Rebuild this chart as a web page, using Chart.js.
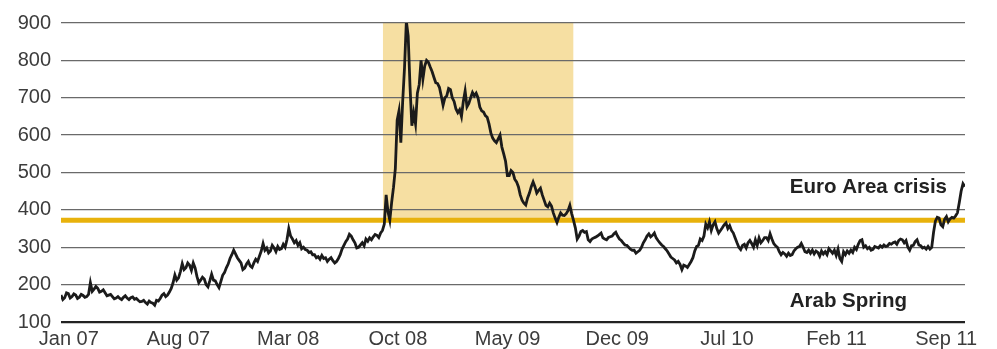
<!DOCTYPE html>
<html>
<head>
<meta charset="utf-8">
<script src="https://cdn.jsdelivr.net/npm/chart.js@4.4.1/dist/chart.umd.min.js"></script>
<style>
  html, body { margin: 0; padding: 0; background: #fff; }
  #wrap { width: 997px; height: 349px; }
</style>
</head>
<body>
<div id="wrap"><canvas id="chart" width="997" height="349"></canvas></div>
<script>
// twice-weekly closes, x in months since Jan 2007
const obsStep = 0.11725;

const prices2007 = [172, 160, 165, 178, 176, 164, 168, 175, 172, 163,
  166, 174, 171, 166, 168, 174, 205, 182, 188, 195,
  190, 180, 182, 186, 178, 170, 172, 174, 168, 162,
  164, 168, 163, 160, 166, 170, 164, 160, 165, 167,
  161, 163, 158, 154, 155, 158, 152, 148, 156, 152,
  150, 145, 158, 156, 163, 172, 176, 168, 172, 180,
  190, 205, 226, 212, 218, 235, 256, 240, 245, 258,
  252, 238, 258, 245, 222, 205, 212, 220, 215, 200,
  194, 210, 228, 212, 210, 200, 192, 208, 225, 232,
  245, 255, 270, 280, 292, 282, 272, 265, 258, 240,
  244, 255, 262, 250];
const prices2008 = [246, 258, 268, 262, 276, 290, 310, 292, 298, 285,
  290, 305, 298, 288, 302, 294, 296, 308, 300, 320,
  350, 330, 322, 312, 318, 305, 312, 296, 300, 294,
  292, 286, 288, 280, 280, 272, 275, 268, 278, 270,
  272, 262, 268, 272, 264, 258, 262, 270, 280, 295,
  305, 315, 322, 335, 330, 320, 312, 298, 300, 306,
  312, 304, 322, 316, 325, 320, 328, 334, 332, 326,
  338, 345, 362, 440, 395, 372, 420, 460, 510, 640,
  665, 580, 690, 780, 905, 865, 730, 625, 660, 630,
  712, 735, 800, 750, 785, 800, 795, 782, 770, 755,
  740, 738, 728, 705];
const prices2009 = [680, 700, 705, 725, 722, 700, 690, 670, 660, 668,
  650, 690, 718, 676, 685, 700, 714, 705, 712, 700,
  675, 665, 662, 652, 648, 630, 606, 592, 585, 580,
  590, 600, 568, 550, 530, 492, 492, 505, 500, 482,
  475, 462, 440, 426, 418, 413, 432, 445, 462, 475,
  462, 445, 452, 458, 440, 426, 412, 408, 418, 410,
  392, 378, 366, 380, 392, 386, 385, 390, 398, 412,
  390, 372, 352, 322, 330, 342, 345, 340, 342, 320,
  315, 322, 325, 327, 330, 334, 338, 325, 322, 320,
  326, 328, 330, 336, 340, 330, 322, 318, 312, 306,
  305, 300, 295, 292];
const prices2010 = [292, 284, 288, 292, 300, 312, 320, 330, 336, 328,
  332, 338, 325, 318, 312, 306, 302, 296, 290, 282,
  274, 270, 266, 258, 262, 254, 240, 252, 250, 246,
  254, 262, 272, 290, 302, 305, 322, 318, 330, 362,
  352, 368, 345, 360, 368, 350, 338, 345, 352, 360,
  365, 350, 358, 345, 338, 325, 312, 300, 294, 305,
  308, 298, 312, 318, 310, 300, 320, 305, 325, 312,
  318, 326, 326, 318, 336, 322, 310, 304, 300, 288,
  280, 286, 282, 276, 284, 278, 280, 290, 296, 300,
  302, 310, 300, 288, 286, 292, 284, 292, 282, 290,
  286, 276, 290, 282];
const prices2011 = [288, 280, 296, 290, 284, 292, 278, 295, 270, 262,
  288, 280, 290, 284, 292, 286, 300, 294, 308, 318,
  320, 300, 304, 296, 300, 292, 294, 302, 300, 298,
  304, 300, 306, 302, 304, 310, 308, 312, 314, 308,
  318, 322, 320, 312, 318, 300, 292, 304, 305, 315,
  320, 306, 304, 298, 300, 295, 302, 295, 300, 340,
  370, 380, 378, 360, 355, 375, 382, 368, 376, 380,
  378, 384, 392, 420, 450, 470, 462];

const tickLabels = ['Jan 07', 'Aug 07', 'Mar 08', 'Oct 08', 'May 09', 'Dec 09', 'Jul 10', 'Feb 11', 'Sep 11'];
const tickMonths = [0.5, 7.5, 14.5, 21.5, 28.5, 35.5, 42.5, 49.5, 56.5];

const crisisWindow = [20.55, 32.7];   // shaded period, months
const threshold = 372;
const notes = [
  { text: 'Euro Area crisis', x: 56.55, y: 461 },
  { text: 'Arab Spring', x: 54.0, y: 156 }
];

const prices = [].concat(prices2007, prices2008, prices2009, prices2010, prices2011);
const points = prices.map((v, i) => ({ x: i * obsStep, y: v }));
const xMax = 57.7;

// shaded box behind the grid
const shadePlugin = {
  id: 'shade',
  beforeDraw(chart) {
    const { ctx, scales: { x, y } } = chart;
    const x0 = x.getPixelForValue(crisisWindow[0]);
    const x1 = x.getPixelForValue(crisisWindow[1]);
    const y0 = y.getPixelForValue(900);
    const y1 = y.getPixelForValue(threshold);
    ctx.save();
    ctx.fillStyle = '#f6dfa2';
    ctx.fillRect(x0, y0, x1 - x0, y1 - y0);
    ctx.restore();
  }
};

const notesPlugin = {
  id: 'notes',
  afterDatasetsDraw(chart) {
    const { ctx, scales: { x, y } } = chart;
    ctx.save();
    ctx.font = 'bold 20.5px "Liberation Sans", Arial, sans-serif';
    ctx.fillStyle = '#222';
    ctx.textAlign = 'right';
    ctx.textBaseline = 'middle';
    notes.forEach(n => ctx.fillText(n.text, x.getPixelForValue(n.x), y.getPixelForValue(n.y)));
    ctx.restore();
  }
};

new Chart(document.getElementById('chart'), {
  type: 'line',
  data: {
    datasets: [
      {
        data: points,
        borderColor: '#1b1b1b',
        borderWidth: 2.8,
        pointRadius: 0,
        tension: 0,
        order: 0
      },
      {
        data: [{ x: 0, y: threshold }, { x: xMax, y: threshold }],
        borderColor: '#e8b20c',
        borderWidth: 5,
        pointRadius: 0,
        order: 1
      }
    ]
  },
  plugins: [shadePlugin, notesPlugin],
  options: {
    responsive: false,
    animation: false,
    events: [],
    layout: { padding: { top: 23, right: 32, left: 0, bottom: 0 } },
    plugins: { legend: { display: false }, tooltip: { enabled: false } },
    scales: {
      x: {
        type: 'linear',
        min: 0,
        max: xMax,
        afterBuildTicks: (axis) => { axis.ticks = tickMonths.map(v => ({ value: v })); },
        afterFit: (axis) => { axis.height = 27; },
        grid: { display: false, drawTicks: false },
        border: { display: false },
        ticks: {
          autoSkip: false,
          maxRotation: 0,
          padding: 5,
          color: '#3c3c3c',
          font: { family: '"Liberation Sans", Arial, sans-serif', size: 20 },
          callback: (v, i) => tickLabels[i]
        }
      },
      y: {
        min: 100,
        max: 900,
        afterFit: (axis) => { axis.width = 61; },
        grid: {
          drawTicks: false,
          color: (c) => c.tick && c.tick.value === 100 ? '#222' : '#6a6a6a',
          lineWidth: (c) => c.tick && c.tick.value === 100 ? 2.2 : 1.3
        },
        border: { display: false },
        ticks: {
          stepSize: 100,
          padding: 10,
          color: '#3c3c3c',
          font: { family: '"Liberation Sans", Arial, sans-serif', size: 20 }
        }
      }
    }
  }
});
</script>
</body>
</html>
